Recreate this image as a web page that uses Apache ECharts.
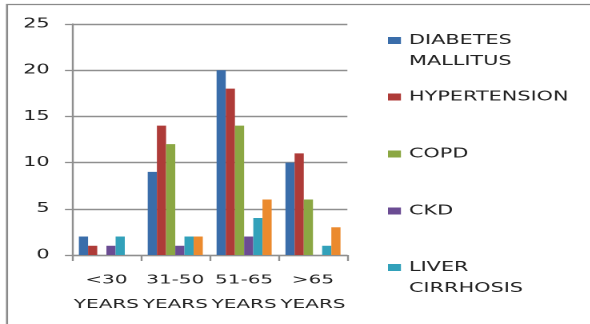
<!DOCTYPE html>
<html>
<head>
<meta charset="utf-8">
<script src="https://cdn.jsdelivr.net/npm/echarts@6/dist/echarts.min.js"></script>
<style>
  html, body { margin: 0; padding: 0; background: #ffffff; overflow: hidden; }
  /* The chart is laid out narrow and widened horizontally, giving the broad lettering */
  #chart {
    width: 368.75px;
    height: 324px;
    transform: scaleX(1.6);
    transform-origin: 0 0;
  }
</style>
</head>
<body>
<div id="chart"></div>
<script>
// Age groups on the x axis
const categories = ['<30\nYEARS', '31-50\nYEARS', '51-65\nYEARS', '>65\nYEARS'];

// Number of patients per comorbidity and age group
const diabetes     = [2, 9, 20, 10];
const hypertension = [1, 14, 18, 11];
const copd         = [0, 12, 14, 6];
const ckd          = [1, 1, 2, 0];
const liver        = [2, 2, 4, 1];
const others       = [0, 2, 6, 3];

const seriesNames = ['DIABETES MALLITUS', 'HYPERTENSION', 'COPD', 'CKD', 'LIVER CIRRHOSIS', 'OTHERS'];
const seriesData  = [diabetes, hypertension, copd, ckd, liver, others];
const colors = ['#3A6DAA', '#AE3B38', '#8BA743', '#6B4C93', '#32A1BA', '#EB8A2E'];

const yTicks = { min: 0, max: 25, interval: 5 };

const FONT = 'DejaVu Sans';
const GRID_COLOR = '#8f8f8f';

const chart = echarts.init(document.getElementById('chart'), null, { devicePixelRatio: 2 });

// one legend block per entry, spaced down the right-hand side;
// two-word names wrap, with the swatch level with the first line
const LINE_H = 21;
const legendCentres = [40.5, 97, 154, 211, 267.5];
const legends = seriesNames.slice(0, 5).map((name, i) => {
  const twoLine = name.indexOf(' ') >= 0;
  const half = twoLine ? LINE_H * 1.5 : LINE_H / 2;
  return {
    show: true,
    orient: 'vertical',
    left: 242.5,
    top: legendCentres[i] - half,
    padding: 0,
    itemWidth: 8.1,
    itemHeight: 7,
    icon: 'rect',
    selectedMode: false,
    data: [name],
    formatter: n => (n.indexOf(' ') >= 0 ? '\n' + n.replace(' ', '\n') : n),
    textStyle: {
      fontFamily: FONT,
      fontSize: 13,
      color: '#222',
      lineHeight: LINE_H
    }
  };
});

chart.setOption({
  animation: false,
  color: colors,
  grid: { left: 45, right: 151.875, top: 24, bottom: 69, containLabel: false },
  legend: legends,
  xAxis: {
    type: 'category',
    data: categories,
    axisLine: { lineStyle: { color: GRID_COLOR, width: 1.3 } },
    axisTick: { show: true, length: 6, interval: 0, lineStyle: { color: GRID_COLOR, width: 1.2 } },
    axisLabel: {
      interval: 0,
      margin: 13,
      fontFamily: FONT,
      fontSize: 12.5,
      lineHeight: 24.5,
      color: '#222'
    },
    splitLine: { show: false }
  },
  yAxis: {
    type: 'value',
    min: yTicks.min,
    max: yTicks.max,
    interval: yTicks.interval,
    axisLine: { show: true, lineStyle: { color: GRID_COLOR, width: 1.2 } },
    axisTick: { show: true, length: 4.4, lineStyle: { color: GRID_COLOR, width: 1.3 } },
    axisLabel: { margin: 14, fontFamily: FONT, fontSize: 13, color: '#222' },
    splitLine: { show: true, lineStyle: { color: GRID_COLOR, width: 1.4 } }
  },
  series: seriesNames.map((name, i) => ({
    name: name,
    type: 'bar',
    data: seriesData[i],
    barGap: '0%',
    barCategoryGap: '20%',
    itemStyle: { color: colors[i] }
  })),
  graphic: [
    {
      type: 'polyline',
      silent: true,
      shape: { points: [[4.4, 324], [4.4, 4.5], [369, 4.5]] },
      style: { stroke: '#8a8a8a', lineWidth: 1.3, fill: null }
    }
  ]
});
</script>
</body>
</html>
